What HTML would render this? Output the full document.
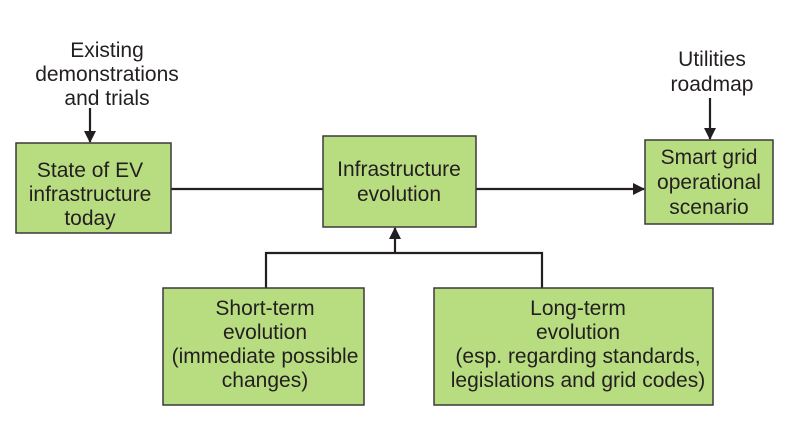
<!DOCTYPE html>
<html><head><style>
body{margin:0;background:#fff;}
svg{display:block}
text{font-family:"Liberation Sans",sans-serif;font-size:21px;fill:#231f20;text-anchor:middle}
rect{fill:#b8dc80;stroke:#3a3a3a;stroke-width:1.5}
</style></head><body>
<svg width="810" height="432" viewBox="0 0 810 432">
<defs><marker id="a" markerWidth="12" markerHeight="12" refX="11" refY="6" orient="auto" markerUnits="userSpaceOnUse"><path d="M0,0 L12,6 L0,12 z" fill="#231f20"/></marker></defs>
<g stroke="#231f20" stroke-width="2.2" fill="none">
<line x1="171" y1="189" x2="323" y2="189"/>
<line x1="476" y1="189" x2="644" y2="189" marker-end="url(#a)"/>
<polyline points="266,288 266,253 542,253 542,288"/>
<line x1="395" y1="253" x2="395" y2="228" marker-end="url(#a)"/>
<line x1="90" y1="108" x2="90" y2="142" marker-end="url(#a)"/>
<line x1="710" y1="98" x2="710" y2="139" marker-end="url(#a)"/>
</g>
<rect x="16" y="143" width="155" height="90"/>
<rect x="323" y="136" width="153" height="91"/>
<rect x="645" y="140" width="128" height="84"/>
<rect x="163" y="288" width="201" height="117"/>
<rect x="434" y="288" width="279" height="117"/>
<text x="107" y="57">Existing</text><text x="107" y="81">demonstrations</text><text x="107" y="105">and trials</text>
<text x="712" y="66">Utilities</text><text x="712" y="91">roadmap</text>
<text x="90" y="177">State of EV</text><text x="90" y="201">infrastructure</text><text x="90" y="225">today</text>
<text x="399" y="176">Infrastructure</text><text x="399" y="201">evolution</text>
<text x="709" y="164">Smart grid</text><text x="709" y="189">operational</text><text x="709" y="214">scenario</text>
<text x="265" y="315">Short-term</text><text x="265" y="339">evolution</text><text x="265" y="363">(immediate possible</text><text x="265" y="387">changes)</text>
<text x="578" y="315">Long-term</text><text x="578" y="339">evolution</text><text x="578" y="363">(esp. regarding standards,</text><text x="578" y="387">legislations and grid codes)</text>
</svg>
</body></html>
